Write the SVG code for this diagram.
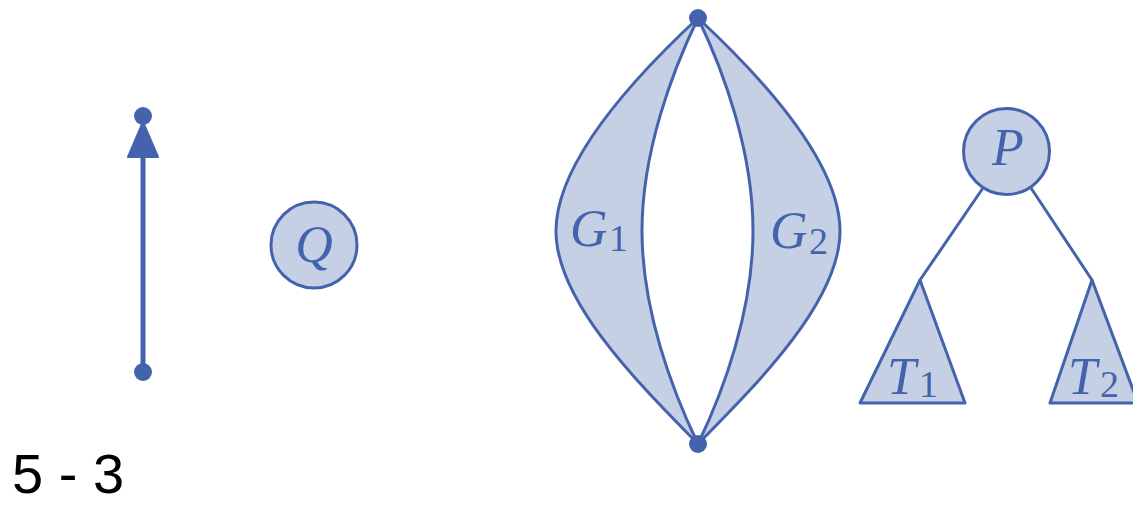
<svg xmlns="http://www.w3.org/2000/svg" width="1133" height="506" viewBox="0 0 1133 506">
<style>
.s{stroke:#4563ad;stroke-width:3;fill:#c5d0e4;stroke-linejoin:round}
.ln{stroke:#4563ad;stroke-width:3;fill:none}
.dot{fill:#4563ad}
.m{font-family:"Liberation Serif",serif;font-style:italic;fill:#4563ad;font-size:52px}
.sub{font-family:"Liberation Serif",serif;fill:#4563ad;font-size:38px}
</style>
<rect width="1133" height="506" fill="#ffffff"/>
<g id="arrow">
<line x1="143" y1="372" x2="143" y2="150" stroke="#4563ad" stroke-width="5"/>
<polygon points="143,122 128,157 158,157" fill="#4563ad" stroke="#4563ad" stroke-width="2" stroke-linejoin="round"/>
<circle class="dot" cx="143" cy="116" r="9"/>
<circle class="dot" cx="143" cy="372" r="9"/>
</g>
<g id="Q">
<circle class="s" cx="314" cy="245" r="43"/>
<text class="m" x="314" y="262" text-anchor="middle">Q</text>
</g>
<g id="G1">
<path class="s" d="M698,18 C640,72 556,160 556,231 C556,302 640,385 698,444 C672,390 642,310 642,231 C642,152 672,72 698,18 Z"/>
<text class="m" x="570" y="246">G</text><text class="sub" x="609" y="251">1</text>
</g>
<g id="G2">
<path class="s" d="M698,18 C756,72 840,160 840,231 C840,302 756,385 698,444 C724,390 753,310 753,231 C753,152 724,72 698,18 Z"/>
<text class="m" x="770" y="248">G</text><text class="sub" x="809" y="254">2</text>
</g>
<g id="poles">
<circle class="dot" cx="698" cy="18" r="9"/>
<circle class="dot" cx="698" cy="444" r="9"/>
</g>
<g id="connectors">
<line class="ln" x1="983" y1="188" x2="920" y2="280"/>
<line class="ln" x1="1031" y1="188" x2="1092" y2="280"/>
</g>
<g id="P">
<circle class="s" cx="1006.5" cy="151.5" r="43"/>
<text class="m" x="1008" y="165" text-anchor="middle">P</text>
</g>
<g id="T1">
<polygon class="s" points="920,280 860,403 965,403"/>
<text class="m" x="887" y="394">T</text><text class="sub" x="919" y="397">1</text>
</g>
<g id="T2">
<polygon class="s" points="1092,280 1050,403 1138,403"/>
<text class="m" x="1068" y="394">T</text><text class="sub" x="1100" y="397">2</text>
</g>
<text x="12" y="493" font-family="'Liberation Sans',Arial,sans-serif" font-size="56" fill="#000000">5 - 3</text>
</svg>
